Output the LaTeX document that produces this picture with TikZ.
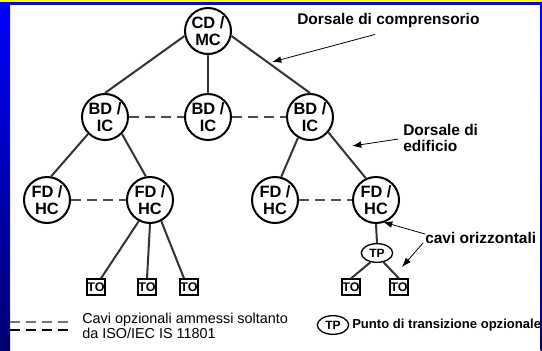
\documentclass[tikz,border=0pt]{standalone}
\usepackage{fontspec}
\setmainfont{Liberation Sans}
\usetikzlibrary{shapes.geometric,arrows.meta,calc}
\definecolor{frameblue}{RGB}{0,0,255}
\definecolor{framenavy}{RGB}{0,0,110}
\definecolor{frameyellow}{RGB}{255,255,0}
\tikzset{
  net/hub/.style={
    circle,
    draw,
    line width=1.5pt,
    minimum size=34.5pt,
    inner sep=0pt,
    align=center,
    font=\bfseries\fontsize{12.3}{12.6}\selectfont
  },
  net/outlet/.style={
    rectangle,
    draw,
    line width=1.3pt,
    minimum width=13.5pt,
    minimum height=11.5pt,
    inner sep=0pt,
    font=\bfseries\fontsize{9.4}{10}\selectfont
  },
  net/tp/.style={
    ellipse,
    draw,
    line width=1pt,
    minimum width=23.5pt,
    minimum height=14pt,
    inner sep=0pt,
    font=\bfseries\fontsize{9}{10}\selectfont
  },
  net/label/.style={font=\bfseries\fontsize{11.6}{12.2}\selectfont, align=left, inner sep=0pt},
  net/cable/.style={line width=1.5pt, draw=black!80},
  net/opt/.style={net/cable, draw=black!70, dash pattern=on 7.5pt off 4.5pt},
  net/call/.style={line width=0.6pt, -{Latex[length=7pt, width=5pt]}}
}

\begin{document}
\begin{tikzpicture}[x=0.75pt, y=-0.75pt]
\useasboundingbox (0,0) rectangle (542,350);

% --- frame
\fill[white] (0,0) rectangle (542,350);
\shade[top color=frameblue, bottom color=framenavy] (0,0) rectangle (10,350);
\shade[top color=frameblue, bottom color=framenavy] (540.5,0) rectangle (542,350);
\fill[frameblue] (0,0) rectangle (542,5);
\fill[frameyellow] (0,0) rectangle (542,1.5);

% --- distributors
\node[net/hub] (cd)  at (208,31)  {CD /\\MC};
\node[net/hub] (bd1) at (105,117) {BD /\\IC};
\node[net/hub] (bd2) at (208,117) {BD /\\IC};
\node[net/hub] (bd3) at (310,117) {BD /\\IC};
\node[net/hub] (fd1) at (47,200)  {FD /\\HC};
\node[net/hub] (fd2) at (150,200) {FD /\\HC};
\node[net/hub] (fd3) at (275,200) {FD /\\HC};
\node[net/hub] (fd4) at (376,200) {FD /\\HC};
\node[net/tp]  (tp)  at (377,253) {TP};

% --- outlets
\node[net/outlet] (to1) at (96,287)  {TO};
\node[net/outlet] (to2) at (147,287) {TO};
\node[net/outlet] (to3) at (189,287) {TO};
\node[net/outlet] (to4) at (351,287) {TO};
\node[net/outlet] (to5) at (399,287) {TO};

% --- cables
\draw[net/cable] (cd.192) -- (bd1.north);
\draw[net/cable] (cd.south) -- (bd2.north);
\draw[net/cable] (cd.-12) -- (bd3.north);
\draw[net/cable] (bd1.-135) -- (fd1.80);
\draw[net/cable] (bd1.-45) -- (fd2.100);
\draw[net/cable] (bd3.-120) -- (fd3.75);
\draw[net/cable] (bd3.-40) -- (fd4.115);
\draw[net/cable] (fd2.-118) -- (to1.60);
\draw[net/cable] (fd2.south) -- (to2.north);
\draw[net/cable] (fd2.-62) -- (to3.120);
\draw[net/cable] (fd4.south) -- (tp.north);
\draw[net/cable] (tp.-125) -- (to4.north);
\draw[net/cable] (tp.-55) -- (to5.north);

% --- optional cables
\draw[net/opt] (bd1.east) -- (bd2.west);
\draw[net/opt] (bd2.east) -- (bd3.west);
\draw[net/opt] (fd1.east) -- (fd2.west);
\draw[net/opt] (fd3.east) -- (fd4.west);

% --- labels
\node[net/label, anchor=west] (campus) at (297,20) {Dorsale di comprensorio};
\node[net/label, anchor=north west] (building) at (403,124) {Dorsale di\\edificio};
\node[net/label, anchor=west] (horiz) at (425,238) {cavi orizzontali};

\coordinate (campustip) at (272,62);
\coordinate (buildtip) at (352,146);
\coordinate (horiztipa) at (383,222);
\coordinate (horiztipb) at (402,267);
\draw[net/call] ($(campus.south west)+(78,7)$) -- (campustip);
\draw[net/call] ($(building.west)+(-5,1)$) -- (buildtip);
\draw[net/call] ($(horiz.west)+(0,-4)$) -- (horiztipa);
\draw[net/call] ($(horiz.west)+(-2,5)$) -- (horiztipb);

% --- legend
\coordinate (keya) at (10,322);
\coordinate (keyb) at (70,322);
\coordinate (keyc) at (10,330);
\coordinate (keyd) at (70,330);
\draw[net/opt, draw=black!55] (keya) -- (keyb);
\draw[net/opt, draw=black] (keyc) -- (keyd);
\node[anchor=west, align=left, inner sep=0pt, font=\fontsize{10.8}{11.5}\selectfont] (optnote) at (82,326)
  {Cavi opzionali ammessi soltanto\\da ISO/IEC IS 11801};
\node[net/tp] (tpkey) at (333,325) {TP};
\node[anchor=west, inner sep=0pt, font=\bfseries\fontsize{9.8}{11}\selectfont] (tpnote) at (352,325)
  {Punto di transizione opzionale};

\end{tikzpicture}
\end{document}
